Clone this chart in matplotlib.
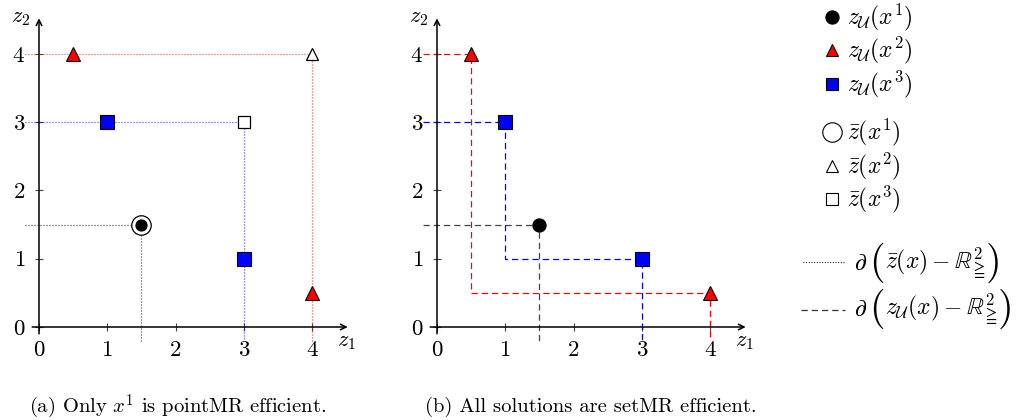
import numpy as np
import matplotlib
matplotlib.use("Agg")
import matplotlib.pyplot as plt

plt.rcParams['font.family'] = 'cmr10'
plt.rcParams['mathtext.fontset'] = 'cm'
plt.rcParams['axes.formatter.use_mathtext'] = True

# image points z_U(x) of the three solutions
x1_pts = [(1.5, 1.5)]
x2_pts = [(0.5, 4.0), (4.0, 0.5)]
x3_pts = [(1.0, 3.0), (3.0, 1.0)]
ticks = [0, 1, 2, 3, 4]

RED = '#ff0000'
BLUE = '#0000ff'

W, H = 1023, 420
fig = plt.figure(figsize=(W / 100, H / 100), dpi=100)

UNIT = 68.3
LIM = (-0.5, 4.7)
EXT = -0.2  # how far boundary lines run past the axes


def make_axes(ox, oy):
    # ox, oy = pixel position of the origin (from top-left)
    left = ox + LIM[0] * UNIT
    bottom = H - (oy - LIM[0] * UNIT)
    size = (LIM[1] - LIM[0]) * UNIT
    ax = fig.add_axes([left / W, bottom / H, size / W, size / H])
    ax.set_xlim(LIM)
    ax.set_ylim(LIM)
    for s in ['top', 'right']:
        ax.spines[s].set_visible(False)
    ax.spines['left'].set_position(('data', 0))
    ax.spines['bottom'].set_position(('data', 0))
    ax.spines['left'].set_visible(False)
    ax.spines['bottom'].set_visible(False)
    ax.set_xticks(ticks)
    ax.set_yticks(ticks)
    ax.tick_params(direction='inout', length=6, width=0.8, color='#444',
                   labelsize=16.5, pad=7)
    ax.patch.set_visible(False)
    arrow = dict(arrowstyle='->', lw=1.1, color='black', shrinkA=0, shrinkB=0)
    ax.annotate('', xy=(4.52, 0), xytext=(-0.1, 0), arrowprops=arrow)
    ax.annotate('', xy=(0, 4.52), xytext=(0, -0.1), arrowprops=arrow)
    ax.text(4.5, -0.23, r'$z_1$', fontsize=16, ha='center', va='center')
    ax.text(-0.27, 4.52, r'$z_2$', fontsize=16, ha='center', va='center')
    return ax


def staircase(pts):
    pts = sorted(pts)
    xs = [EXT]
    ys = [pts[0][1]]
    for i, (px, py) in enumerate(pts):
        xs.append(px)
        ys.append(py)
        if i + 1 < len(pts):
            xs.append(px)
            ys.append(pts[i + 1][1])
    xs.append(pts[-1][0])
    ys.append(EXT)
    return xs, ys


sols = [
    (x1_pts, 'o', 'black', '#444444', 9.5),
    (x2_pts, '^', RED, RED, 10),
    (x3_pts, 's', BLUE, BLUE, 10.5),
]
open_sizes = {'o': 14, '^': 8.5, 's': 8.5}

# (a) upper bounds z_bar(x)
axa = make_axes(39, 327)
for pts, m, fc, lc, ms in sols:
    zb = (max(p[0] for p in pts), max(p[1] for p in pts))
    xs, ys = staircase([zb])
    line_col = 'black' if m == 'o' else lc
    ln, = axa.plot(xs, ys, color=line_col, lw=0.9, alpha=0.8, zorder=2)
    ln.set_dashes((0.8, 1.6))
    axa.plot(zb[0], zb[1], marker=m, ms=open_sizes[m], mfc='white',
             mec='black', mew=0.9, ls='none', zorder=4)
    p = np.array(pts)
    axa.plot(p[:, 0], p[:, 1], marker=m, ms=ms if m != 'o' else 8, mfc=fc,
             mec='black', mew=0.8, ls='none', zorder=5)

# (b) set-based boundaries
axb = make_axes(437, 327)
for pts, m, fc, lc, ms in sols:
    xs, ys = staircase(pts)
    ln, = axb.plot(xs, ys, color=lc, lw=0.9, zorder=2)
    ln.set_dashes((5, 3.2))
    p = np.array(pts)
    axb.plot(p[:, 0], p[:, 1], marker=m, ms=ms, mfc=fc,
             mec='black', mew=0.8, ls='none', zorder=5)

# captions
fig.text(178 / W, 1 - 407 / H, r'(a) Only $x^1$ is pointMR efficient.',
         fontsize=14.8, ha='center', va='center')
fig.text(591 / W, 1 - 407 / H, r'(b) All solutions are setMR efficient.',
         fontsize=14.8, ha='center', va='center')

# legend drawn in pixel space
leg = fig.add_axes([0, 0, 1, 1])
leg.set_xlim(0, W)
leg.set_ylim(H, 0)
leg.axis('off')
leg_rows = [
    ('o', 'black', 9.5, r'$z_{\mathcal{U}}(x^1)$', 17),
    ('^', RED, 9, r'$z_{\mathcal{U}}(x^2)$', 50),
    ('s', BLUE, 8.5, r'$z_{\mathcal{U}}(x^3)$', 84),
    ('o', 'white', 14, r'$\bar{z}(x^1)$', 132),
    ('^', 'white', 8.5, r'$\bar{z}(x^2)$', 166),
    ('s', 'white', 8.5, r'$\bar{z}(x^3)$', 199),
]
for m, fc, ms, lab, y in leg_rows:
    leg.plot([832], [y], marker=m, ms=ms, mfc=fc, mec='black', mew=0.8, ls='none')
    leg.text(847, y, lab, fontsize=17, ha='left', va='center')

renderer = fig.canvas.get_renderer()


def boundary_label(x, y, inner):
    # d ( inner ) with large delimiters, placed piece by piece
    pieces = [(r'$\partial$', 17, 0, 2), ('(', 29, 3, 0), (inner, 17, 0, 0), (')', 29, 3, 0)]
    for txt, fs, dy, gap in pieces:
        t = leg.text(x, y + dy, txt, fontsize=fs, ha='left', va='baseline')
        bb = t.get_window_extent(renderer)
        x += bb.width + gap


ln, = leg.plot([803, 845], [262, 262], color='black', lw=0.8)
ln.set_dashes((0.8, 1.6))
boundary_label(854, 270, r'$\bar{z}(x)-\mathbb{R}^2_{\geqq}$')
ln, = leg.plot([801, 845], [310, 310], color='#333333', lw=0.9)
ln.set_dashes((5, 3.2))
boundary_label(854, 316, r'$z_{\mathcal{U}}(x)-\mathbb{R}^2_{\geqq}$')

fig.savefig('out.png', dpi=100)
